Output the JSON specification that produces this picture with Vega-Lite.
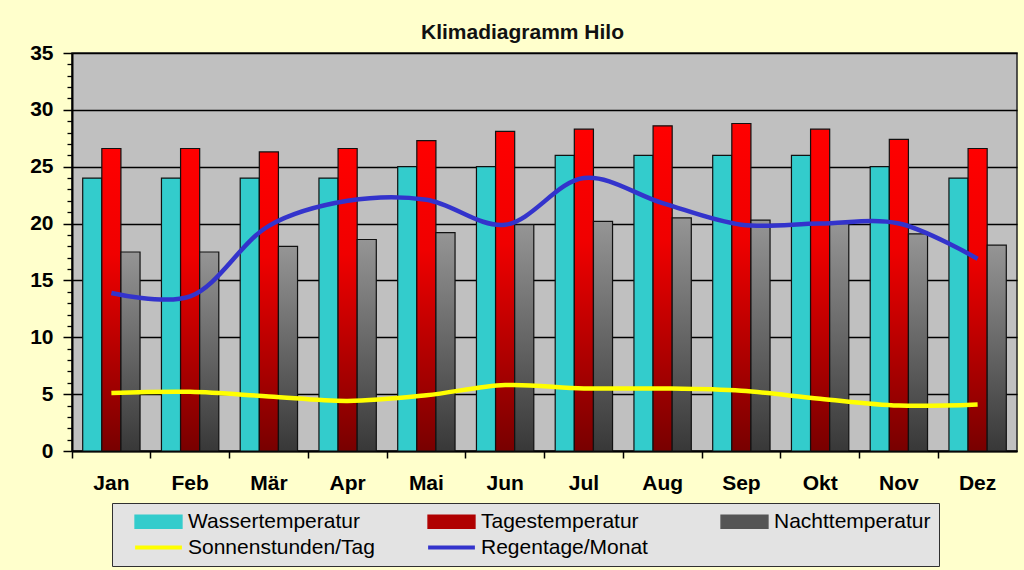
{
  "$schema": "https://vega.github.io/schema/vega-lite/v6.json",
  "autosize": {"type": "none"},
  "width": 945,
  "height": 398,
  "padding": {"left": 72, "top": 53, "right": 7, "bottom": 119},
  "background": "#FFFFCC",
  "title": {
    "text": "Klimadiagramm Hilo",
    "font": "Liberation Sans",
    "fontSize": 21,
    "fontWeight": "bold",
    "color": "#111111",
    "anchor": "middle",
    "dx": -22,
    "offset": -1
  },
  "config": {
    "view": {"fill": "#C0C0C0", "stroke": "#222222", "strokeWidth": 1.5},
    "axis": {"labelFont": "Liberation Sans", "labelColor": "#000000"}
  },
  "data": {
    "values": [
      {"month": "Jan", "series": "Wassertemperatur", "value": 24},
      {"month": "Feb", "series": "Wassertemperatur", "value": 24},
      {"month": "Mär", "series": "Wassertemperatur", "value": 24},
      {"month": "Apr", "series": "Wassertemperatur", "value": 24},
      {"month": "Mai", "series": "Wassertemperatur", "value": 25},
      {"month": "Jun", "series": "Wassertemperatur", "value": 25},
      {"month": "Jul", "series": "Wassertemperatur", "value": 26},
      {"month": "Aug", "series": "Wassertemperatur", "value": 26},
      {"month": "Sep", "series": "Wassertemperatur", "value": 26},
      {"month": "Okt", "series": "Wassertemperatur", "value": 26},
      {"month": "Nov", "series": "Wassertemperatur", "value": 25},
      {"month": "Dez", "series": "Wassertemperatur", "value": 24},
      {"month": "Jan", "series": "Tagestemperatur", "value": 26.6},
      {"month": "Feb", "series": "Tagestemperatur", "value": 26.6},
      {"month": "Mär", "series": "Tagestemperatur", "value": 26.3},
      {"month": "Apr", "series": "Tagestemperatur", "value": 26.6},
      {"month": "Mai", "series": "Tagestemperatur", "value": 27.3},
      {"month": "Jun", "series": "Tagestemperatur", "value": 28.1},
      {"month": "Jul", "series": "Tagestemperatur", "value": 28.3},
      {"month": "Aug", "series": "Tagestemperatur", "value": 28.6},
      {"month": "Sep", "series": "Tagestemperatur", "value": 28.8},
      {"month": "Okt", "series": "Tagestemperatur", "value": 28.3},
      {"month": "Nov", "series": "Tagestemperatur", "value": 27.4},
      {"month": "Dez", "series": "Tagestemperatur", "value": 26.6},
      {"month": "Jan", "series": "Nachttemperatur", "value": 17.5},
      {"month": "Feb", "series": "Nachttemperatur", "value": 17.5},
      {"month": "Mär", "series": "Nachttemperatur", "value": 18.0},
      {"month": "Apr", "series": "Nachttemperatur", "value": 18.6},
      {"month": "Mai", "series": "Nachttemperatur", "value": 19.2},
      {"month": "Jun", "series": "Nachttemperatur", "value": 19.9},
      {"month": "Jul", "series": "Nachttemperatur", "value": 20.2},
      {"month": "Aug", "series": "Nachttemperatur", "value": 20.5},
      {"month": "Sep", "series": "Nachttemperatur", "value": 20.3},
      {"month": "Okt", "series": "Nachttemperatur", "value": 20.0},
      {"month": "Nov", "series": "Nachttemperatur", "value": 19.1},
      {"month": "Dez", "series": "Nachttemperatur", "value": 18.1},
      {"month": "Jan", "series": "Sonnenstunden/Tag", "value": 5.1},
      {"month": "Feb", "series": "Sonnenstunden/Tag", "value": 5.2},
      {"month": "Mär", "series": "Sonnenstunden/Tag", "value": 4.8},
      {"month": "Apr", "series": "Sonnenstunden/Tag", "value": 4.4},
      {"month": "Mai", "series": "Sonnenstunden/Tag", "value": 4.9},
      {"month": "Jun", "series": "Sonnenstunden/Tag", "value": 5.8},
      {"month": "Jul", "series": "Sonnenstunden/Tag", "value": 5.5},
      {"month": "Aug", "series": "Sonnenstunden/Tag", "value": 5.5},
      {"month": "Sep", "series": "Sonnenstunden/Tag", "value": 5.3},
      {"month": "Okt", "series": "Sonnenstunden/Tag", "value": 4.6},
      {"month": "Nov", "series": "Sonnenstunden/Tag", "value": 4.0},
      {"month": "Dez", "series": "Sonnenstunden/Tag", "value": 4.1},
      {"month": "Jan", "series": "Regentage/Monat", "value": 13.9},
      {"month": "Feb", "series": "Regentage/Monat", "value": 13.6},
      {"month": "Mär", "series": "Regentage/Monat", "value": 19.8},
      {"month": "Apr", "series": "Regentage/Monat", "value": 22.0},
      {"month": "Mai", "series": "Regentage/Monat", "value": 22.1},
      {"month": "Jun", "series": "Regentage/Monat", "value": 19.9},
      {"month": "Jul", "series": "Regentage/Monat", "value": 24.0},
      {"month": "Aug", "series": "Regentage/Monat", "value": 21.8},
      {"month": "Sep", "series": "Regentage/Monat", "value": 19.9},
      {"month": "Okt", "series": "Regentage/Monat", "value": 20.0},
      {"month": "Nov", "series": "Regentage/Monat", "value": 20.0},
      {"month": "Dez", "series": "Regentage/Monat", "value": 16.9}
    ]
  },
  "encoding": {
    "x": {
      "field": "month",
      "type": "nominal",
      "scale": {
        "domain": ["Jan", "Feb", "Mär", "Apr", "Mai", "Jun", "Jul", "Aug", "Sep", "Okt", "Nov", "Dez"],
        "paddingInner": 0,
        "paddingOuter": 0
      },
      "axis": {
        "title": null,
        "labelAngle": 0,
        "bandPosition": 0,
        "labelFontSize": 21,
        "labelFontWeight": "bold",
        "labelPadding": 14,
        "tickSize": 7,
        "tickColor": "#000000",
        "tickWidth": 1.5,
        "domainColor": "#000000",
        "domainWidth": 2,
        "grid": false
      }
    },
    "y": {
      "field": "value",
      "type": "quantitative",
      "scale": {"domain": [0, 35], "nice": false, "zero": true},
      "axis": null
    }
  },
  "layer": [
    {
      "transform": [{"filter": "datum.series == 'Wassertemperatur'"}],
      "mark": {"type": "bar", "fill": "#33CCCC", "stroke": "#111111", "strokeWidth": 1.2},
      "encoding": {
        "xOffset": {
          "field": "series",
          "type": "nominal",
          "scale": {"domain": ["Wassertemperatur", "Tagestemperatur", "Nachttemperatur"], "paddingInner": 0, "paddingOuter": 0.56}
        },
        "y": {
          "field": "value",
          "type": "quantitative",
          "axis": {
            "title": null,
            "orient": "left",
            "values": [0, 5, 10, 15, 20, 25, 30, 35],
            "labelFontSize": 21,
            "labelFontWeight": "bold",
            "labelPadding": 10,
            "tickSize": 9,
            "tickColor": "#000000",
            "tickWidth": 1.5,
            "domainColor": "#000000",
            "domainWidth": 2,
            "grid": true,
            "gridColor": "#000000",
            "gridWidth": 1.3
          }
        }
      }
    },
    {
      "transform": [{"filter": "datum.series == 'Tagestemperatur'"}],
      "mark": {
        "type": "bar",
        "stroke": "#111111",
        "strokeWidth": 1.2,
        "fill": {
          "gradient": "linear",
          "x1": 0, "y1": 0, "x2": 0, "y2": 1,
          "stops": [
            {"offset": 0, "color": "#FF0000"},
            {"offset": 0.35, "color": "#F00000"},
            {"offset": 1, "color": "#780000"}
          ]
        }
      },
      "encoding": {
        "xOffset": {"field": "series", "type": "nominal"}
      }
    },
    {
      "transform": [{"filter": "datum.series == 'Nachttemperatur'"}],
      "mark": {
        "type": "bar",
        "stroke": "#111111",
        "strokeWidth": 1.2,
        "fill": {
          "gradient": "linear",
          "x1": 0, "y1": 0, "x2": 0, "y2": 1,
          "stops": [
            {"offset": 0, "color": "#959595"},
            {"offset": 1, "color": "#383838"}
          ]
        }
      },
      "encoding": {
        "xOffset": {"field": "series", "type": "nominal"}
      }
    },
    {
      "transform": [{"filter": "datum.series == 'Sonnenstunden/Tag' || datum.series == 'Regentage/Monat'"}],
      "mark": {"type": "line", "strokeWidth": 4.5, "interpolate": "catmull-rom"},
      "encoding": {
        "y": {"field": "value", "type": "quantitative", "axis": {
            "title": null,
            "orient": "left",
            "values": [1,2,3,4,6,7,8,9,11,12,13,14,16,17,18,19,21,22,23,24,26,27,28,29,31,32,33,34],
            "labels": false,
            "domain": false,
            "grid": false,
            "tickSize": 5,
            "tickColor": "#000000",
            "tickWidth": 1.3
        }},
        "color": {
          "field": "series",
          "type": "nominal",
          "scale": {
            "domain": ["Wassertemperatur", "Tagestemperatur", "Nachttemperatur", "Sonnenstunden/Tag", "Regentage/Monat"],
            "range": ["#33CCCC", "#B00000", "#555555", "#FFFF00", "#3333CC"]
          },
          "legend": {
            "title": null,
            "orient": "none",
            "legendX": 40,
            "legendY": 450,
            "direction": "horizontal",
            "columns": 3,
            "gridAlign": "all",
            "columnPadding": 38,
            "rowPadding": 4,
            "padding": 8,
            "fillColor": "#E3E3E3",
            "strokeColor": "#303030",
            "labelFont": "Liberation Sans",
            "labelFontSize": 21,
            "labelColor": "#000000",
            "labelLimit": 400,
            "labelOffset": 19,
            "symbolOffset": 28,
            "symbolSize": 676,
            "encode": {
              "symbols": {
                "update": {
                  "size": {"value": 676},
                  "shape": {"signal": "indexof(['Sonnenstunden/Tag','Regentage/Monat'], datum.value) >= 0 ? 'M-1.8,0H1.8' : 'M-1.8,-0.5H1.8V0.5H-1.8Z'"},
                  "fill": {"signal": "indexof(['Sonnenstunden/Tag','Regentage/Monat'], datum.value) >= 0 ? 'transparent' : scale('color', datum.value)"},
                  "stroke": {"signal": "indexof(['Sonnenstunden/Tag','Regentage/Monat'], datum.value) >= 0 ? scale('color', datum.value) : '#111111'"},
                  "strokeWidth": {"signal": "indexof(['Sonnenstunden/Tag','Regentage/Monat'], datum.value) >= 0 ? 4 : 1.5"},
                  "opacity": {"value": 1}
                }
              }
            }
          }
        }
      }
    }
  ],
  "resolve": {"axis": {"y": "independent"}}
}
